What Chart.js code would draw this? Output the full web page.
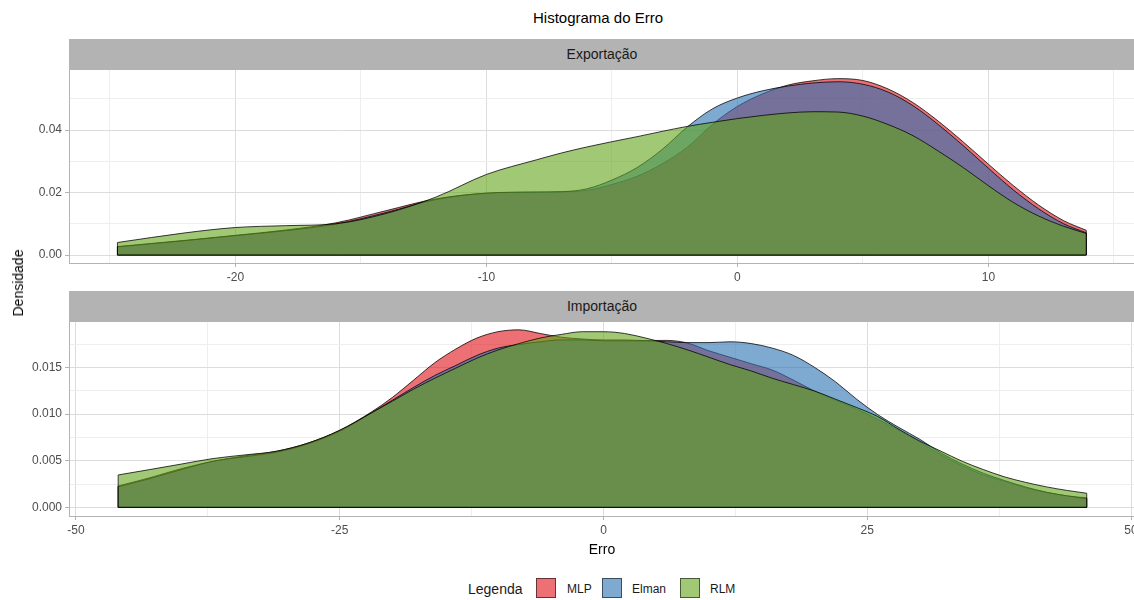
<!DOCTYPE html>
<html>
<head>
<meta charset="utf-8">
<script src="https://cdn.jsdelivr.net/npm/chart.js@4/dist/chart.umd.min.js"></script>
<style>
  html, body { margin: 0; padding: 0; background: #fff; overflow: hidden; }
  #wrap { position: relative; width: 1134px; height: 600px; overflow: hidden; font-family: "Liberation Sans", Arial, sans-serif; }
  canvas { position: absolute; left: 0; }
  .strip { position: absolute; left: 69px; width: 1080px; height: 31px; background: #B3B3B3; color: #1A1A1A; font-size: 14px; z-index: 2; }
  .strip span { position: absolute; left: 0; width: 1066px; text-align: center; top: 7px; }
  #title { position: absolute; left: 0; width: 1196px; text-align: center; top: 9px; font-size: 15px; color: #000; }
  #ylab { position: absolute; left: 18px; top: 283px; transform: translate(-50%, -50%) rotate(-90deg); font-size: 14px; color: #000; white-space: nowrap; }
  #xlab { position: absolute; left: 0; width: 1204px; text-align: center; top: 541px; font-size: 14px; color: #000; }
  #legend { position: absolute; top: 578px; left: 0; height: 22px; font-size: 12px; color: #1A1A1A; }
  #legend .t { position: absolute; top: 3px; font-size: 14px; white-space: nowrap; }
  #legend .k { position: absolute; top: 0; width: 20px; height: 20px; box-sizing: border-box; border: 1px solid rgba(0,0,0,0.55); }
  #legend .l { position: absolute; top: 4px; white-space: nowrap; }
</style>
</head>
<body>
<div id="wrap">
  <div id="title">Histograma do Erro</div>
  <div class="strip" style="top:39px"><span>Exportação</span></div>
  <div class="strip" style="top:291px"><span>Importação</span></div>
  <canvas id="cTop" width="1160" height="231" style="top:60px"></canvas>
  <canvas id="cBot" width="1160" height="232" style="top:312px"></canvas>
  <div id="ylab">Densidade</div>
  <div id="xlab">Erro</div>
  <div id="legend"></div>
</div>
<script>
// ---------------- DATA ----------------
const seriesNames = ["MLP", "Elman", "RLM"];

// Exportação panel
const expX = [-24.7, -22, -20, -18, -16, -14, -12, -10, -8, -7, -6, -5, -4, -3, -2, -1, 0, 1, 2, 3, 4, 5, 6, 7, 8, 9, 10, 11, 12, 13, 13.9];
const expMLP = [0.0027, 0.0047, 0.0063, 0.0080, 0.0103, 0.0142, 0.0180, 0.0198, 0.0201, 0.0202, 0.0207, 0.0226, 0.0252, 0.0292, 0.0345, 0.0418, 0.0476, 0.0516, 0.0544, 0.0558, 0.0565, 0.0559, 0.0532, 0.0488, 0.0429, 0.0362, 0.0291, 0.0222, 0.0160, 0.0110, 0.0079];
const expElman = [0.0026, 0.0046, 0.0062, 0.0078, 0.0099, 0.0136, 0.0178, 0.0198, 0.0202, 0.0203, 0.0212, 0.0240, 0.0280, 0.0338, 0.0410, 0.0468, 0.0503, 0.0526, 0.0541, 0.0551, 0.0555, 0.0547, 0.0522, 0.0478, 0.0418, 0.0350, 0.0278, 0.0208, 0.0148, 0.0100, 0.0071];
const expRLM = [0.0040, 0.0071, 0.0088, 0.0094, 0.0100, 0.0133, 0.0186, 0.0258, 0.0305, 0.0327, 0.0346, 0.0363, 0.0379, 0.0396, 0.0412, 0.0425, 0.0437, 0.0447, 0.0455, 0.0459, 0.0458, 0.0445, 0.0418, 0.0382, 0.0333, 0.0280, 0.0222, 0.0168, 0.0125, 0.0092, 0.0069];

// Importação panel
const impX = [-46, -43, -40, -37, -34, -31, -28, -25, -22, -20, -18, -16, -14, -12, -10, -8, -6, -4, -2, 0, 2, 4, 6, 8, 10, 12, 14, 16, 18, 20, 22, 24, 26, 28, 30, 32, 34, 36, 38, 40, 42, 44, 45.8];
const impMLP = [0.00229, 0.00317, 0.00415, 0.00494, 0.00552, 0.00601, 0.00689, 0.00826, 0.01022, 0.01179, 0.01364, 0.0155, 0.01697, 0.01815, 0.01883, 0.01903, 0.01864, 0.01824, 0.01805, 0.01795, 0.01795, 0.01788, 0.0179, 0.0176, 0.01678, 0.01609, 0.0154, 0.01472, 0.01364, 0.01247, 0.01149, 0.01051, 0.00944, 0.00826, 0.00699, 0.00562, 0.00445, 0.00347, 0.00278, 0.0021, 0.00161, 0.00122, 0.00102];
const impElman = [0.00219, 0.00308, 0.00405, 0.00494, 0.00542, 0.00591, 0.0068, 0.00816, 0.01012, 0.01149, 0.01286, 0.01413, 0.01521, 0.01629, 0.01707, 0.01746, 0.01775, 0.01795, 0.01795, 0.01785, 0.01785, 0.01785, 0.01775, 0.01766, 0.01766, 0.01775, 0.01756, 0.01707, 0.01629, 0.01501, 0.01345, 0.01159, 0.00993, 0.00856, 0.00728, 0.00582, 0.00464, 0.00366, 0.00288, 0.00219, 0.00161, 0.00122, 0.00092];
const impRLM = [0.00347, 0.00405, 0.00464, 0.00523, 0.00562, 0.00601, 0.00689, 0.00826, 0.01012, 0.01139, 0.01267, 0.01384, 0.01492, 0.01599, 0.01687, 0.01756, 0.01815, 0.01854, 0.01883, 0.01883, 0.01864, 0.01815, 0.01756, 0.01687, 0.01609, 0.0153, 0.01462, 0.01384, 0.01316, 0.01247, 0.01159, 0.0107, 0.00973, 0.00836, 0.00709, 0.00601, 0.00494, 0.00405, 0.00327, 0.00268, 0.00219, 0.0018, 0.00151];

// Tick values
const expXMajor = [-20, -10, 0, 10];
const expXMinor = [-25, -15, -5, 5, 15];
const expYMajor = [0, 0.02, 0.04];
const expYMinor = [0.01, 0.03, 0.05];
const impXMajor = [-50, -25, 0, 25, 50];
const impXMinor = [-37.5, -12.5, 12.5, 37.5];
const impYMajor = [0, 0.005, 0.010, 0.015];
const impYMinor = [0.0025, 0.0075, 0.0125, 0.0175];

// ---------------- STYLE ----------------
const fills = {
  MLP: "rgba(224,16,24,0.6)",
  Elman: "rgba(40,114,180,0.6)",
  RLM: "rgba(98,163,25,0.6)"
};
const drawOrder = { MLP: 3, Elman: 2, RLM: 1 };

function makeSets(xs, arrs) {
  return seriesNames.map((name, i) => ({
    label: name,
    data: xs.map((x, j) => ({ x: x, y: arrs[i][j] })),
    backgroundColor: fills[name],
    borderColor: "rgba(0,0,0,0.85)",
    borderWidth: 0.9,
    fill: "origin",
    pointRadius: 0,
    cubicInterpolationMode: "monotone",
    order: drawOrder[name]
  }));
}

const edgePlugin = {
  id: "edges",
  afterDatasetDraw(chart, args) {
    const meta = args.meta;
    const pts = meta.data;
    if (!pts || pts.length < 2) return;
    const ctx = chart.ctx;
    const y0 = chart.scales.y.getPixelForValue(0);
    const a = pts[0], b = pts[pts.length - 1];
    const ca = chart.chartArea;
    ctx.save();
    ctx.beginPath();
    ctx.rect(ca.left, ca.top, ca.right - ca.left, ca.bottom - ca.top);
    ctx.clip();
    ctx.strokeStyle = "rgba(0,0,0,0.85)";
    ctx.lineWidth = 0.9;
    ctx.beginPath();
    ctx.moveTo(a.x, a.y);
    ctx.lineTo(a.x, y0);
    ctx.lineTo(b.x, y0);
    ctx.lineTo(b.x, b.y);
    ctx.stroke();
    ctx.restore();
  }
};

function isIn(v, list) { return list.some(m => Math.abs(m - v) < 1e-9); }

function axis(cfg) {
  const all = cfg.major.concat(cfg.minor).sort((a, b) => a - b);
  return {
    type: "linear",
    min: cfg.min,
    max: cfg.max,
    afterBuildTicks: s => { s.ticks = all.map(v => ({ value: v })); },
    afterFit: s => { if (cfg.width !== undefined) s.width = cfg.width; if (cfg.height !== undefined) s.height = cfg.height; },
    grid: {
      color: c => (c.tick && isIn(c.tick.value, cfg.major)) ? "#DCDCDC" : "#EEEEEE",
      lineWidth: 1,
      tickLength: 4,
      tickColor: c => (c.tick && isIn(c.tick.value, cfg.major)) ? "#B3B3B3" : "rgba(0,0,0,0)"
    },
    border: { display: true, color: "#B3B3B3", width: 1 },
    ticks: {
      autoSkip: false,
      maxRotation: 0,
      minRotation: 0,
      padding: 3,
      color: "#4D4D4D",
      font: { family: "'Liberation Sans', Arial, sans-serif", size: 12 },
      callback: v => isIn(v, cfg.major) ? cfg.fmt(v) : ""
    }
  };
}

function makeChart(id, xs, arrs, xcfg, ycfg) {
  return new Chart(document.getElementById(id), {
    type: "line",
    data: { datasets: makeSets(xs, arrs) },
    options: {
      responsive: false,
      maintainAspectRatio: false,
      animation: false,
      layout: { padding: { top: 10, right: 20, bottom: 0, left: 0 } },
      plugins: { legend: { display: false }, tooltip: { enabled: false } },
      scales: {
        x: axis(Object.assign({ height: 28 }, xcfg)),
        y: axis(Object.assign({ width: 69 }, ycfg))
      }
    },
    plugins: [edgePlugin]
  });
}

makeChart("cTop", expX, [expMLP, expElman, expRLM],
  { min: -26.63, max: 16.04, major: expXMajor, minor: expXMinor, fmt: v => String(v) },
  { min: -0.00256, max: 0.0592, major: expYMajor, minor: expYMinor, fmt: v => v.toFixed(2) });

makeChart("cBot", impX, [impMLP, impElman, impRLM],
  { min: -50.66, max: 50.85, major: impXMajor, minor: impXMinor, fmt: v => String(v) },
  { min: -0.00093, max: 0.01985, major: impYMajor, minor: impYMinor, fmt: v => v.toFixed(3) });

// Legend (HTML)
const leg = document.getElementById("legend");
const legPos = [
  { k: 536, l: 567 },
  { k: 602, l: 632 },
  { k: 680, l: 710 }
];
const t = document.createElement("div");
t.className = "t"; t.style.left = "468px"; t.textContent = "Legenda";
leg.appendChild(t);
seriesNames.forEach((n, i) => {
  const k = document.createElement("div");
  k.className = "k"; k.style.left = legPos[i].k + "px"; k.style.background = fills[n];
  leg.appendChild(k);
  const l = document.createElement("div");
  l.className = "l"; l.style.left = legPos[i].l + "px"; l.textContent = n;
  leg.appendChild(l);
});
</script>
</body>
</html>
